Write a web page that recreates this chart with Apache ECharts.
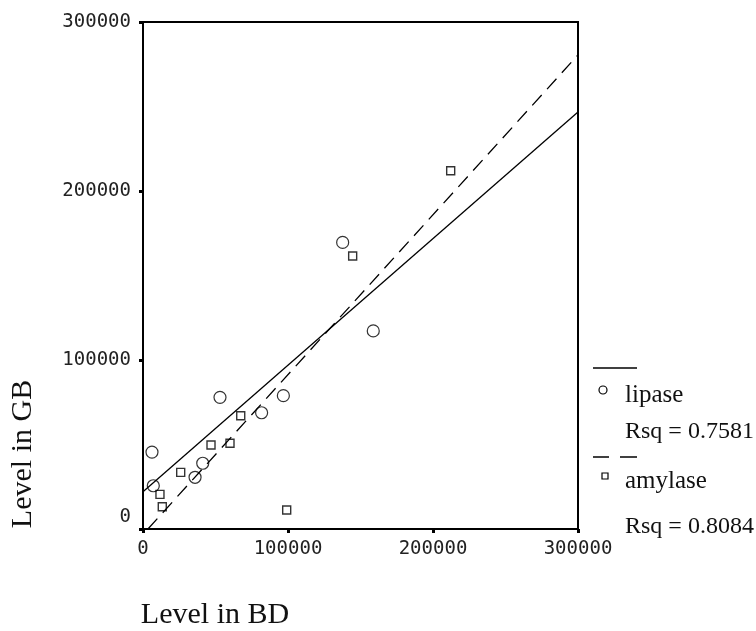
<!DOCTYPE html>
<html>
<head>
<meta charset="utf-8">
<script src="https://cdn.jsdelivr.net/npm/echarts@6/dist/echarts.min.js"></script>
<style>html,body{margin:0;padding:0;background:#fff}#c{width:756px;height:631px}</style>
</head>
<body>
<div id="c"></div>
<script>
// Data
const lipaseBD = [6200, 7100, 35900, 41200, 53100, 81800, 96800, 137700, 158800];
const lipaseGB = [45500, 25600, 30600, 38900, 77900, 68800, 78900, 169600, 117200];
const amylaseBD = [11700, 13300, 26000, 46900, 60000, 67400, 99100, 144600, 212200];
const amylaseGB = [20500, 13200, 33500, 49700, 50700, 67000, 11200, 161500, 212000];
// Fit line end points
const lipaseFitBD = [0, 300000];
const lipaseFitGB = [22000, 246700];
const amylaseFitBD = [3400, 300000];
const amylaseFitGB = [0, 280500];
const axisTicks = [0, 100000, 200000, 300000];
const legendNames = ['lipase', 'amylase'];
const legendRsq = ['Rsq = 0.7581', 'Rsq = 0.8084'];

const zip = (a, b) => a.map((v, i) => [v, b[i]]);
const tickFont = '"DejaVu Sans Mono", monospace';
const serif = '"Liberation Serif", "Times New Roman", serif';

const chart = echarts.init(document.getElementById('c'));
const axisCommon = {
  type: 'value',
  min: axisTicks[0],
  max: axisTicks[axisTicks.length - 1],
  interval: axisTicks[1] - axisTicks[0],
  splitLine: { show: false },
  axisLine: { show: true, lineStyle: { color: '#000', width: 2 } },
  axisTick: { show: true, inside: false, length: 4, lineStyle: { color: '#000', width: 3 } },
};
chart.setOption({
  animation: false,
  backgroundColor: '#fff',
  grid: { left: 143, top: 22, right: 178, bottom: 102, show: true, borderColor: '#000', borderWidth: 2, backgroundColor: 'transparent' },
  xAxis: Object.assign({}, axisCommon, {
    axisLabel: { color: '#222', fontFamily: tickFont, fontSize: 19, margin: 11, formatter: v => String(v) }
  }),
  yAxis: Object.assign({}, axisCommon, {
    axisLabel: {
      color: '#222', fontFamily: tickFont, fontSize: 19, margin: 12,
      formatter: v => v === 0 ? '{z|0}' : String(v),
      rich: { z: { fontFamily: tickFont, fontSize: 19, color: '#222', padding: [0, 0, 24, 0] } }
    }
  }),
  series: [
    { type: 'line', data: zip(lipaseFitBD, lipaseFitGB), symbol: 'none', lineStyle: { color: '#000', width: 1.3 }, z: 2 },
    { type: 'line', data: zip(amylaseFitBD, amylaseFitGB), symbol: 'none', lineStyle: { color: '#000', width: 1.3, type: [14, 8] }, z: 2 },
    { type: 'scatter', name: legendNames[0], data: zip(lipaseBD, lipaseGB), symbol: 'circle', symbolSize: 12,
      itemStyle: { color: 'rgba(0,0,0,0)', borderColor: '#000', borderWidth: 1.2 }, z: 3 },
    { type: 'scatter', name: legendNames[1], data: zip(amylaseBD, amylaseGB), symbol: 'rect', symbolSize: 8,
      itemStyle: { color: 'rgba(0,0,0,0)', borderColor: '#000', borderWidth: 1.4 }, z: 3 }
  ],
  graphic: [
    { type: 'text', x: 215, y: 615, style: { text: 'Level in BD', font: '30px ' + serif, fill: '#111', align: 'center', verticalAlign: 'middle' } },
    { type: 'text', x: 23, y: 454, rotation: Math.PI / 2, style: { text: 'Level in GB', font: '30px ' + serif, fill: '#111', align: 'center', verticalAlign: 'middle' } },
    // legend
    { type: 'line', shape: { x1: 593, y1: 368, x2: 637, y2: 368 }, style: { stroke: '#000', lineWidth: 1.5 } },
    { type: 'circle', shape: { cx: 603, cy: 390, r: 4 }, style: { fill: 'none', stroke: '#000', lineWidth: 1.2 } },
    { type: 'text', x: 625, y: 395, style: { text: legendNames[0], font: '25px ' + serif, fill: '#111', verticalAlign: 'middle' } },
    { type: 'text', x: 625, y: 432, style: { text: legendRsq[0], font: '24px ' + serif, fill: '#111', verticalAlign: 'middle' } },
    { type: 'line', shape: { x1: 593, y1: 457, x2: 609, y2: 457 }, style: { stroke: '#000', lineWidth: 1.5 } },
    { type: 'line', shape: { x1: 620, y1: 457, x2: 637, y2: 457 }, style: { stroke: '#000', lineWidth: 1.5 } },
    { type: 'rect', shape: { x: 602, y: 473, width: 6, height: 6 }, style: { fill: 'none', stroke: '#000', lineWidth: 1.2 } },
    { type: 'text', x: 625, y: 481, style: { text: legendNames[1], font: '25px ' + serif, fill: '#111', verticalAlign: 'middle' } },
    { type: 'text', x: 625, y: 527, style: { text: legendRsq[1], font: '24px ' + serif, fill: '#111', verticalAlign: 'middle' } }
  ]
});
</script>
</body>
</html>
